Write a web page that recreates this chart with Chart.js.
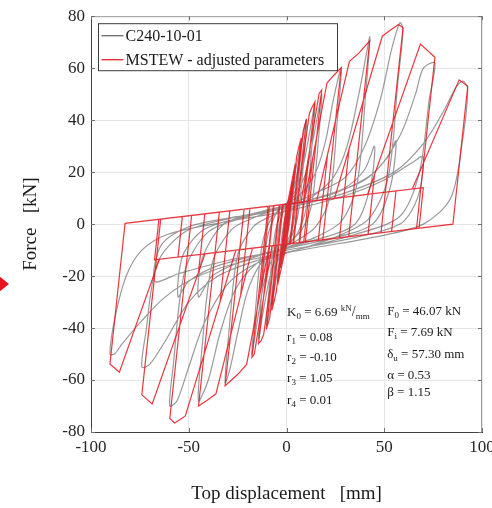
<!DOCTYPE html>
<html><head><meta charset="utf-8">
<script src="https://cdn.jsdelivr.net/npm/chart.js@4.4.0/dist/chart.umd.min.js"></script>
<style>
html,body{margin:0;padding:0;overflow:hidden;background:#fff;width:492px;height:508px;}
#wrap{position:relative;width:510px;height:508px;}
#arrow{position:absolute;left:-2px;top:275px;width:0;height:0;border-top:9px solid transparent;border-bottom:9px solid transparent;border-left:11px solid #e8141e;}
</style></head><body>
<div id="wrap"><canvas id="c" width="510" height="508"></canvas><div id="arrow"></div></div>
<script>
// ---- tick labels / axis ranges ----
const xTicks = [-100, -50, 0, 50, 100];
const yTicks = [-80, -60, -40, -20, 0, 20, 40, 60, 80];

// ---- MSTEW model (red), vertices ----
const redDisp = [0,2,-0.81,-2,0.81,3,-0.51,-3,0.51,4.5,0.07,-4.5,-0.07,2.5,5.2,6.2,7.5,1.68,-2.5,-5.2,-6.2,-7.5,-1.68,4.22,5.6,2.11,-4.22,-5.6,-2.11,4.22,8.6,10.2,3.36,-4.22,-8.6,-10.3,-3.36,5.39,7.7,3.68,-5.39,-7.7,-3.68,5.39,11.7,13,14.5,6.77,-5.39,-11.7,-13,-14.3,-6.71,7.39,10.9,6.43,-7.39,-10.9,-6.43,7.39,16.7,18,9.65,-7.39,-16.5,-17.7,-9.39,9.12,13.5,8.81,-8.89,-13.5,-8.7,9.12,20.7,24,28,18.57,-8.89,-20.4,-25,-31.4,-21.7,15.47,21,16.28,-17.42,-23.5,-18.71,15.47,32.2,37,42.6,31.84,-17.42,-36.1,-40,-45,-34.34,24.55,32,27.12,-25.9,-34,-28.99,24.55,49,53,57.3,59.6,48.33,-25.9,-51.75,-55,-57.3,-59.7,-48.54,41.46,45,41.72,-41.7,-45,-41.79,41.46,68.5,75.9,66.5,-41.7,-68.7,-74,-64.34,56,53.77,-55.5,-53.27,64.36,88.3,92.7,85.12,-65,-85.5,-90.3,-82.58,70,67.77,-67.5,-65.27,0];
const redForce = [0,11.9,-7.8,-11.9,7.8,16.8,-7.75,-16.8,7.75,23.3,-7.7,-23.3,7.7,7.9,26,29.3,33.2,-7.55,-7.9,-26,-29.3,-33.2,7.55,8.08,16.9,-7.51,-8.08,-16.9,7.51,8.08,36.1,40.5,-7.4,-8.08,-36.1,-40.5,7.4,8.19,20.8,-7.37,-8.19,-20.8,7.37,8.19,42.6,44.9,47,-7.09,-8.19,-42.6,-44.9,-46,7.1,8.37,24.2,-7.12,-8.37,-24.2,7.12,8.37,50.3,51.6,-6.83,-8.37,-50.1,-51.3,6.85,8.52,25.9,-6.91,-8.5,-26.7,6.92,8.52,54.3,57.1,60.2,-6.03,-8.5,-54,-57.9,-62.2,5.75,9.09,26.8,-6.23,-9.27,-27.5,6.02,9.09,62.6,65.8,70.5,-4.83,-9.27,-65.3,-67.5,-70,4.61,9.91,28.9,-5.26,-10.03,-30,5.09,9.91,72.3,74.6,76.8,75.5,-3.35,-10.03,-73.8,-75.5,-76.5,-74.8,3.33,11.43,19,-3.95,-11.45,-18.5,3.94,11.43,69.3,64.2,-1.7,-11.45,-69.2,-65.7,1.91,12.74,-2.86,-12.7,2.91,13.49,55.5,53,-0.04,-13.5,-57,-53.8,0.27,14,-1.6,-13.78,1.83,7.7];

// ---- Test C240-10-01 (gray) ----
const grayDisp = [0,1,2,1.3,0,-1,-2,-1.3,0,1.5,3,2,0,-1.5,-3,-2,0,2,4.5,3.2,1,-1,-2.5,-4.5,-3.2,-1,1,3,5,7.5,6.5,4,2,0,-2,-4,-6,-7.5,-6.5,-4,-2,0,2,4,6,8,10.2,9,6,3,0,-3,-6,-8,-10.3,-9,-6,-3,0,3,6,9,12,14.5,13,10,6,2,-2,-6,-9,-12,-14.3,-13,-10,-6,-2,2,6,10,14,18,16.5,13,8,3,-2,-7,-11,-14,-17.7,-16,-12.5,-8,-3,3,9,15,20,24,28,26,22,15,6,-4,-13,-20,-25,-29,-31.4,-29.5,-25,-17,-8,3,14,24,31,37,41,42.6,40.5,36,28,15,0,-15,-26,-34,-40,-45,-43.5,-38,-28,-15,0,15,30,40,48,54,58,59.6,57,52,42,25,5,-15,-30,-42,-50,-56,-59.7,-58,-52,-40,-20,0,15,30,40,45,43,35,15,-5,-25,-38,-45,-43,-32,-12,5,25,45,58,66,70,75.9,73,68,58,35,10,-15,-35,-50,-62,-70,-74,-72,-66,-52,-30,-5,20,40,52,56,53,44,20,-10,-35,-50,-55.5,-53,-42,-20,5,30,55,70,80,87,90.3,92.7,90,84,70,45,15,-20,-45,-62,-75,-84,-88,-90.3,-88,-82,-74,-61,-30,0,30,50,65,70,67,58,30,0,-30,-55,-67.5,-64,-50,-25];
const grayForce = [0,6,11,4,-2,-6,-11,-4,2,8,16,7,-3,-8,-16,-7,3,10,22,10,-2,-6,-12,-22,-10,2,6,12,22,31,20,2,-4,-7,-10,-16,-24,-31,-20,-2,4,7,10,14,22,32,40,26,4,-4,-8,-11,-18,-30,-39,-26,-4,4,8,11,15,24,36,46,30,6,-3,-7,-10,-14,-22,-34,-44,-30,-6,3,7,9,13,20,34,50,34,8,-2,-6,-9,-13,-21,-33,-50,-34,-8,2,6,9,13,20,32,48,60,40,10,-1,-6,-10,-15,-26,-42,-56,-61,-42,-12,-1,3,6,11,18,30,50,66,72,50,15,1,-5,-9,-15,-25,-42,-60,-68,-50,-15,-2,3,7,12,18,30,48,68,77.5,75,55,18,2,-5,-10,-15,-23,-38,-55,-68,-70,-55,-18,-3,3,7,10,14,21,30,15,0,-6,-10,-15,-20,-28,-13,0,5,8,12,20,34,50,60,62,48,20,3,-4,-9,-14,-20,-30,-45,-54,-55,-42,-15,-3,2,6,11,17,26,32,14,0,-6,-11,-16,-22,-28,-12,-2,3,7,12,20,31,43,53,55,52,32,10,0,-5,-9,-14,-20,-28,-38,-46,-50,-50,-37,-20,-10,-4,1,5,11,17,24,26,10,0,-6,-10,-14,-19,-22,-8,-1,3];

const seriesNames = ['C240-10-01', 'MSTEW - adjusted parameters'];
const paramsLeft = [
  [['K',13,0],['0',9,3],[' = 6.69 ',13,0],['kN',9,-5],['/',14,0],['mm',9,3]],
  [['r',13,0],['1',9,3],[' = 0.08',13,0]],
  [['r',13,0],['2',9,3],[' = -0.10',13,0]],
  [['r',13,0],['3',9,3],[' = 1.05',13,0]],
  [['r',13,0],['4',9,3],[' = 0.01',13,0]]
];
const paramsRight = [
  [['F',13,0],['0',9,3],[' = 46.07 kN',13,0]],
  [['F',13,0],['i',9,3],[' = 7.69 kN',13,0]],
  [['δ',13,0],['u',9,3],[' = 57.30 mm',13,0]],
  [['α = 0.53',13,0]],
  [['β = 1.15',13,0]]
];

const SERIF = '"Liberation Serif","Times New Roman",serif';
const redPts = redDisp.map((x,i)=>({x:x,y:redForce[i]}));
const grayPts = grayDisp.map((x,i)=>({x:x,y:grayForce[i]}));

const framePlugin = {
  id:'frame',
  beforeDatasetsDraw(chart){
    const {ctx, chartArea:a, scales} = chart;
    ctx.save();
    ctx.strokeStyle='#9a9a9a'; ctx.lineWidth=1;
    ctx.beginPath();
    ctx.moveTo(a.left, a.top+0.5); ctx.lineTo(a.right-0.5, a.top+0.5); ctx.lineTo(a.right-0.5, a.bottom);
    ctx.stroke();
    ctx.strokeStyle='#707070';
    ctx.beginPath();
    for (const v of yTicks){ const p=Math.round(scales.y.getPixelForValue(v))+0.5; ctx.moveTo(a.left,p); ctx.lineTo(a.left+4,p); ctx.moveTo(a.right,p); ctx.lineTo(a.right-4,p); }
    for (const v of xTicks){ const p=Math.round(scales.x.getPixelForValue(v))+0.5; ctx.moveTo(p,a.bottom); ctx.lineTo(p,a.bottom-4); ctx.moveTo(p,a.top); ctx.lineTo(p,a.top+4); }
    ctx.stroke();
    ctx.restore();
  },
  afterDatasetsDraw(chart){
    const {ctx, chartArea:a, scales} = chart;
    ctx.save();
    // legend box
    const lx=a.left+7.5, ly=a.top+7.5, lw=239, lh=47;
    ctx.fillStyle='#fff'; ctx.fillRect(lx,ly,lw,lh);
    ctx.strokeStyle='#3a3a3a'; ctx.lineWidth=1; ctx.strokeRect(lx,ly,lw,lh);
    const ds = chart.data.datasets;
    const items = [ds[1], ds[0]];
    items.forEach((d,i)=>{
      const cy = ly + 12 + i*24;
      ctx.strokeStyle = d.legendColor; ctx.lineWidth=1.3;
      ctx.beginPath(); ctx.moveTo(lx+3, cy); ctx.lineTo(lx+25, cy); ctx.stroke();
      ctx.fillStyle='#1a1a1a'; ctx.font='16px '+SERIF; ctx.textBaseline='middle'; ctx.textAlign='left';
      ctx.fillText(d.label, lx+27, cy+1);
    });
    // parameter annotations
    ctx.fillStyle='#1a1a1a'; ctx.textBaseline='alphabetic';
    const draw=(parts,x,y)=>{ for(const [t,s,dy] of parts){ ctx.font=s+'px '+SERIF; ctx.fillText(t,x,y+dy); x+=ctx.measureText(t).width; } };
    const x0 = scales.x.getPixelForValue(0.3);
    const x1 = scales.x.getPixelForValue(51.5);
    const ysL=[316,341,361,382,404], ysR=[315,336,358,379,396];
    paramsLeft.forEach((p,i)=>draw(p,x0,ysL[i]));
    paramsRight.forEach((p,i)=>draw(p,x1,ysR[i]));
    ctx.restore();
  }
};

new Chart(document.getElementById('c'), {
  type:'scatter',
  data:{ datasets:[
    {label:seriesNames[1], data:redPts, showLine:true, borderColor:'rgba(232,20,28,0.85)', legendColor:'#e8242c', borderWidth:1.2, pointRadius:0, tension:0, order:0},
    {label:seriesNames[0], data:grayPts, showLine:true, borderColor:'rgba(70,70,70,0.55)', legendColor:'#6a6a6a', borderWidth:1.2, pointRadius:0, tension:0.3, order:1}
  ]},
  options:{
    responsive:false, animation:false, events:[],
    layout:{padding:{top:14,right:28,bottom:0,left:0}},
    plugins:{legend:{display:false}, tooltip:{enabled:false}},
    scales:{
      x:{type:'linear', min:-100, max:100,
        afterBuildTicks:(s)=>{ s.ticks = xTicks.map(v=>({value:v})); },
        afterFit:(s)=>{ s.height=76; },
        ticks:{font:{family:SERIF,size:17}, color:'#262626', padding:5, maxRotation:0, autoSkip:false},
        grid:{color:'#e6e6e6', drawTicks:false},
        border:{color:'#404040', width:1},
        title:{display:true, text:'Top displacement   [mm]', font:{family:SERIF,size:19}, color:'#1a1a1a', padding:{top:0,bottom:3}}
      },
      y:{type:'linear', min:-80, max:80,
        afterBuildTicks:(s)=>{ s.ticks = yTicks.map(v=>({value:v})); },
        afterFit:(s)=>{ s.width=91; },
        ticks:{font:{family:SERIF,size:17}, color:'#262626', padding:6},
        grid:{color:'#e6e6e6', drawTicks:false},
        border:{color:'#404040', width:1},
        title:{display:true, text:'Force   [kN]', font:{family:SERIF,size:19}, color:'#1a1a1a', padding:{top:20,bottom:0}}
      }
    }
  },
  plugins:[framePlugin]
});
</script>
</body></html>
